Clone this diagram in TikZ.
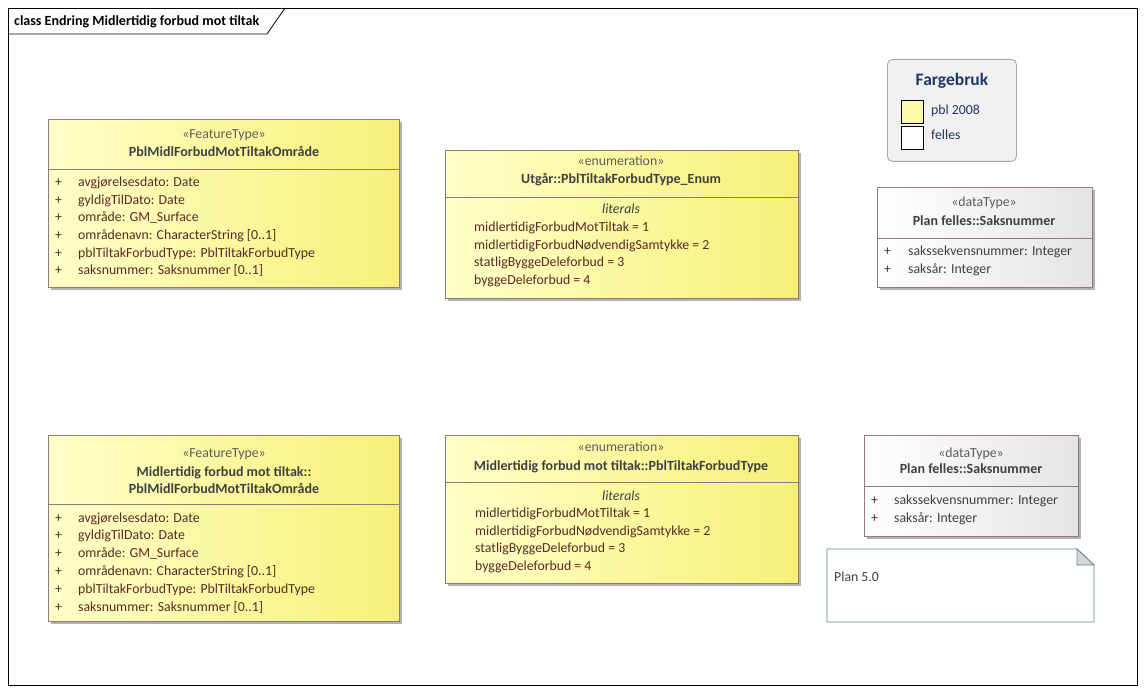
\documentclass[tikz,border=0pt]{standalone}
\usepackage{fontspec}
\setmainfont{Carlito}
\usetikzlibrary{shadows}
\definecolor{umlborder}{RGB}{150,120,120}
\definecolor{yellowA}{RGB}{255,255,200}
\definecolor{yellowB}{RGB}{246,240,120}
\definecolor{grayA}{RGB}{255,255,255}
\definecolor{grayB}{RGB}{228,228,228}
\definecolor{nametxt}{RGB}{64,64,64}
\definecolor{attrtxt}{RGB}{90,40,40}
\definecolor{legendblue}{RGB}{31,56,100}
\definecolor{legendfill}{RGB}{240,240,240}
\definecolor{legendborder}{RGB}{165,165,165}
\definecolor{noteborder}{RGB}{100,135,150}
\definecolor{notefold}{RGB}{215,215,215}
\newcommand{\regfont}{\fontsize{13.8}{16}\selectfont}
\newcommand{\boldfont}{\bfseries\fontsize{14}{16}\selectfont}
\begin{document}
\begin{tikzpicture}[x=1pt,y=-1pt,
  umlshadow/.style={drop shadow={shadow xshift=3pt,shadow yshift=-3pt,fill=black!30,opacity=1}},
  yellowbox/.style={draw=umlborder,line width=0.8pt,left color=yellowA,right color=yellowB,umlshadow,inner sep=0,anchor=north west},
  graybox/.style={draw=umlborder,line width=0.8pt,left color=grayA,right color=grayB,umlshadow,inner sep=0,anchor=north west},
  sep/.style={draw=umlborder,line width=0.8pt},
  stereo/.style={inner sep=0,anchor=base,text=nametxt!85,font=\regfont},
  cname/.style={inner sep=0,anchor=base,text=nametxt,font=\boldfont},
  plus/.style={inner sep=0,anchor=base west,text=attrtxt,font=\regfont},
  attr/.style={inner sep=0,anchor=base west,text=attrtxt,font=\regfont},
  dattr/.style={inner sep=0,anchor=base west,text=nametxt,font=\regfont},
  lit/.style={inner sep=0,anchor=base,text=nametxt,font=\itshape\regfont},
  ltxt/.style={inner sep=0,anchor=base west,text=legendblue,font=\regfont},
  swatch/.style={draw=black,line width=1pt,inner sep=0,minimum width=22pt,minimum height=23pt,anchor=north west}
]
\useasboundingbox (0,0) rectangle (1145,692);
\fill[white] (0,0) rectangle (1145,692);

% frame
\node[draw=black,line width=0.8pt,inner sep=0,minimum width=1129pt,minimum height=677pt,anchor=north west] (frame) at (8,8) {};
\coordinate (tabA) at (8,34);
\coordinate (tabB) at (267,34);
\coordinate (tabC) at (285,8);
\draw[line width=0.8pt] (tabA) -- (tabB) -- (tabC);
\node[inner sep=0,anchor=base west,font=\bfseries\fontsize{14}{16}\selectfont] (title) at (14,26) {class Endring Midlertidig forbud mot tiltak};

% ---- Class 1 (top left)
\node[yellowbox,minimum width=351pt,minimum height=168pt] (c1) at (48,119) {};
\coordinate (c1sl) at (48,169); \coordinate (c1sr) at (399,169);
\draw[sep] (c1sl) -- (c1sr);
\node[stereo] (c1s) at (224,139) {«FeatureType»};
\node[cname] (c1n) at (224,157) {PblMidlForbudMotTiltakOmråde};
\foreach \i/\t/\y in {1/avgjørelsesdato: Date/187, 2/gyldigTilDato: Date/205, 3/område: GM\_Surface/222, 4/områdenavn: CharacterString [0..1]/240, 5/pblTiltakForbudType: PblTiltakForbudType/258, 6/saksnummer: Saksnummer [0..1]/275}{
  \node[plus] (c1p\i) at (55,\y) {+};
  \node[attr] (c1a\i) at (78,\y) {\t};
}

% ---- Enum top
\node[yellowbox,minimum width=353pt,minimum height=148pt] (e1) at (445,150) {};
\coordinate (e1sl) at (445,197); \coordinate (e1sr) at (798,197);
\draw[sep] (e1sl) -- (e1sr);
\node[stereo] (e1s) at (621,166) {«enumeration»};
\node[cname] (e1n) at (621,184) {Utgår::PblTiltakForbudType\_Enum};
\node[lit] (e1l) at (621,214) {literals};
\foreach \i/\t/\y in {1/midlertidigForbudMotTiltak = 1/232, 2/midlertidigForbudNødvendigSamtykke = 2/250, 3/statligByggeDeleforbud = 3/267, 4/byggeDeleforbud = 4/285}{
  \node[attr] (e1a\i) at (474,\y) {\t};
}

% ---- Legend
\node[draw=legendborder,line width=0.8pt,fill=legendfill,rounded corners=5pt,minimum width=129pt,minimum height=102pt,inner sep=0,anchor=north west] (leg) at (887,59) {};
\node[inner sep=0,anchor=base,text=legendblue,font=\bfseries\fontsize{17.5}{20}\selectfont] (legt) at (952,86) {Fargebruk};
\node[swatch,fill=yellowA!60!yellowB] (sw1) at (901,100) {};
\node[swatch,fill=white] (sw2) at (901,126) {};
\node[ltxt] (lt1) at (931,115) {pbl 2008};
\node[ltxt] (lt2) at (931,140) {felles};

% ---- DataType top
\node[graybox,minimum width=215pt,minimum height=100pt] (d1) at (877,187) {};
\coordinate (d1sl) at (877,238); \coordinate (d1sr) at (1092,238);
\draw[sep] (d1sl) -- (d1sr);
\node[stereo] (d1s) at (984,207) {«dataType»};
\node[cname] (d1n) at (984,226) {Plan felles::Saksnummer};
\node[plus] (d1p1) at (884,256) {+};
\node[dattr] (d1a1) at (908,256) {sakssekvensnummer: Integer};
\node[plus] (d1p2) at (884,274) {+};
\node[dattr] (d1a2) at (908,274) {saksår: Integer};

% ---- Class 2 (bottom left)
\node[yellowbox,minimum width=351pt,minimum height=186pt] (c2) at (48,435) {};
\coordinate (c2sl) at (48,504); \coordinate (c2sr) at (399,504);
\draw[sep] (c2sl) -- (c2sr);
\node[stereo] (c2s) at (224,457) {«FeatureType»};
\node[cname] (c2n1) at (224,476) {Midlertidig forbud mot tiltak::};
\node[cname] (c2n2) at (224,493) {PblMidlForbudMotTiltakOmråde};
\foreach \i/\t/\y in {1/avgjørelsesdato: Date/522, 2/gyldigTilDato: Date/539, 3/område: GM\_Surface/557, 4/områdenavn: CharacterString [0..1]/575, 5/pblTiltakForbudType: PblTiltakForbudType/593, 6/saksnummer: Saksnummer [0..1]/611}{
  \node[plus] (c2p\i) at (55,\y) {+};
  \node[attr] (c2a\i) at (78,\y) {\t};
}

% ---- Enum bottom
\node[yellowbox,minimum width=353pt,minimum height=148pt] (e2) at (445,435) {};
\coordinate (e2sl) at (445,482); \coordinate (e2sr) at (798,482);
\draw[sep] (e2sl) -- (e2sr);
\node[stereo] (e2s) at (621,451) {«enumeration»};
\node[cname] (e2n) at (621,470) {Midlertidig forbud mot tiltak::PblTiltakForbudType};
\node[lit] (e2l) at (621,500) {literals};
\foreach \i/\t/\y in {1/midlertidigForbudMotTiltak = 1/517, 2/midlertidigForbudNødvendigSamtykke = 2/535, 3/statligByggeDeleforbud = 3/552, 4/byggeDeleforbud = 4/570}{
  \node[attr] (e2a\i) at (475,\y) {\t};
}

% ---- DataType bottom
\node[graybox,minimum width=214pt,minimum height=101pt] (d2) at (864,435) {};
\coordinate (d2sl) at (864,486); \coordinate (d2sr) at (1078,486);
\draw[sep] (d2sl) -- (d2sr);
\node[stereo] (d2s) at (971,457) {«dataType»};
\node[cname] (d2n) at (971,473) {Plan felles::Saksnummer};
\node[plus] (d2p1) at (871,504) {+};
\node[dattr] (d2a1) at (894,504) {sakssekvensnummer: Integer};
\node[plus] (d2p2) at (871,522) {+};
\node[dattr] (d2a2) at (894,522) {saksår: Integer};

% ---- Note
\coordinate (nA) at (827,549);
\coordinate (nB) at (1077,549);
\coordinate (nC) at (1094,565);
\coordinate (nD) at (1094,622);
\coordinate (nE) at (827,622);
\coordinate (nF) at (1077,565);
\draw[draw=noteborder,line width=0.8pt,fill=white] (nA) -- (nB) -- (nC) -- (nD) -- (nE) -- cycle;
\draw[draw=noteborder,line width=0.8pt,fill=notefold] (nB) -- (nF) -- (nC) -- cycle;
\node[inner sep=0,anchor=base west,text=nametxt,font=\regfont] (note) at (834,581) {Plan 5.0};
\end{tikzpicture}
\end{document}
